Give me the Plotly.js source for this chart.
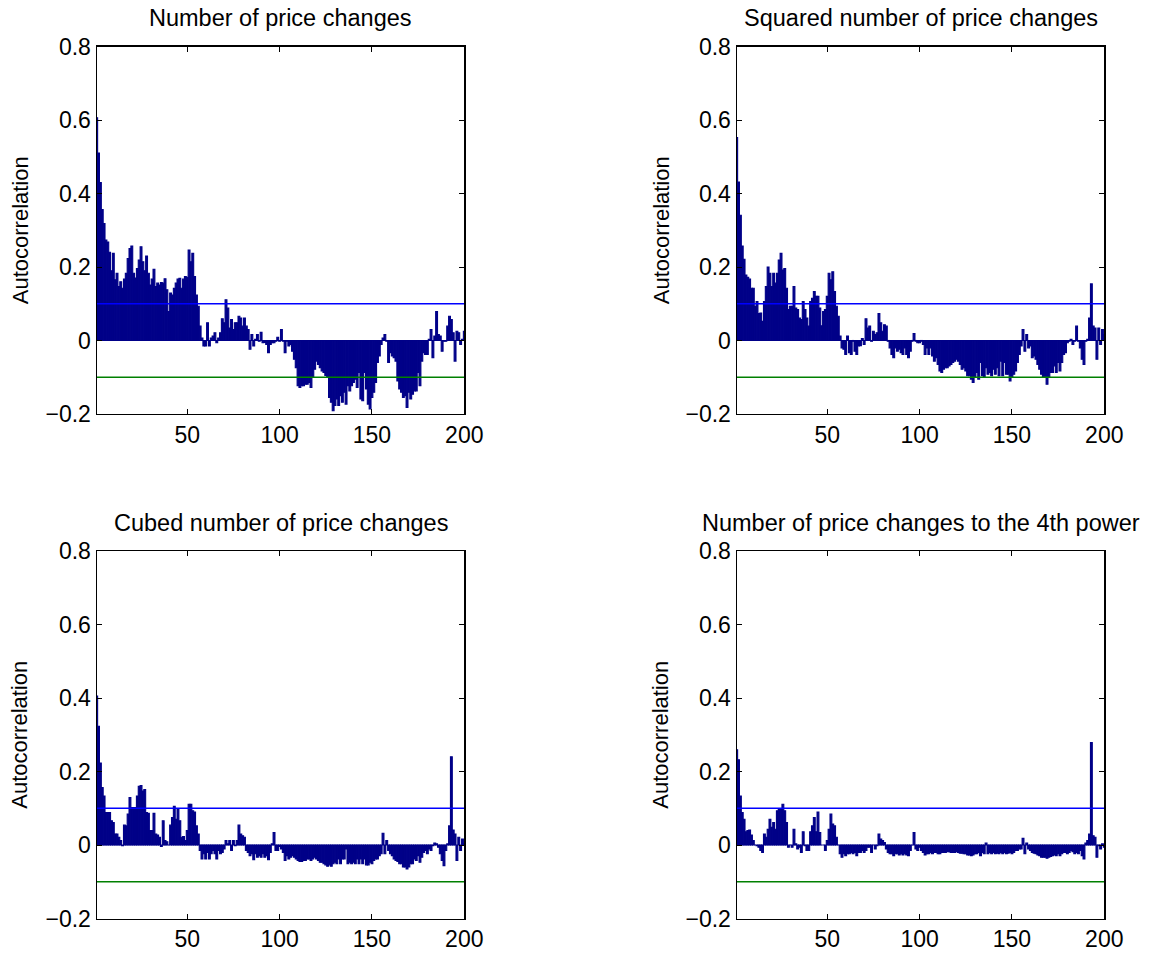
<!DOCTYPE html>
<html>
<head>
<meta charset="utf-8">
<script src="https://cdn.plot.ly/plotly-3.0.1.min.js"></script>
<style>
html,body{margin:0;padding:0;background:#fff;}
#chart{width:1163px;height:958px;}
</style>
</head>
<body>
<div id="chart"></div>
<script>
// ---- data (autocorrelation by lag) ----
const lags = Array.from({length: 200}, (_, i) => i + 1);

const titles = [
  "Number of price changes",
  "Squared number of price changes",
  "Cubed number of price changes",
  "Number of price changes to the 4th power"
];

const acfNumber = [
  0.606, 0.51, 0.43, 0.356, 0.318, 0.273, 0.268, 0.24, 0.19, 0.237,
  0.165, 0.183, 0.147, 0.16, 0.142, 0.167, 0.183, 0.223, 0.25, 0.257,
  0.183, 0.17, 0.196, 0.219, 0.255, 0.214, 0.19, 0.23, 0.183, 0.151,
  0.167, 0.194, 0.147, 0.156, 0.151, 0.158, 0.156, 0.168, 0.138, 0.079,
  0.129, 0.124, 0.142, 0.156, 0.167, 0.169, 0.142, 0.167, 0.174, 0.172,
  0.246, 0.214, 0.237, 0.174, 0.124, 0.093, 0.039, 0.007, -0.015, -0.015,
  0.048, -0.015, 0.007, 0.012, 0.021, -0.006, 0.007, 0.021, 0.059, 0.048,
  0.111, 0.088, 0.034, 0.057, 0.03, 0.048, 0.048, 0.066, 0.061, 0.039,
  0.061, 0.039, 0.03, -0.024, 0.016, -0.015, 0.003, 0.016, -0.002, 0.022,
  -0.006, -0.005, -0.011, -0.033, -0.011, -0.006, -0.006, -0.002, 0.009, -0.002,
  0.03, -0.002, -0.033, -0.002, -0.015, -0.011, -0.029, -0.051, -0.074, -0.123,
  -0.128, -0.123, -0.123, -0.119, -0.119, -0.114, -0.128, -0.1, -0.078, -0.056,
  -0.065, -0.074, -0.083, -0.087, -0.095, -0.1, -0.155, -0.168, -0.191, -0.177,
  -0.159, -0.177, -0.15, -0.168, -0.141, -0.173, -0.123, -0.137, -0.123, -0.114,
  -0.105, -0.128, -0.087, -0.159, -0.164, -0.087, -0.132, -0.173, -0.186, -0.155,
  -0.141, -0.114, -0.06, -0.042, -0.011, 0.007, 0.016, -0.002, -0.06, -0.033,
  -0.042, -0.047, -0.056, -0.11, -0.132, -0.141, -0.155, -0.15, -0.182, -0.141,
  -0.159, -0.146, -0.137, -0.137, -0.087, -0.123, -0.056, -0.033, -0.038, -0.038,
  0.003, 0.03, -0.047, 0.012, 0.079, 0.016, 0.012, -0.029, -0.002, -0.002,
  0.039, 0.066, 0.057, 0.021, -0.056, 0.025, 0.021, -0.011, 0.003, 0.025
];

const acfSquared = [
  0.552, 0.431, 0.341, 0.257, 0.221, 0.178, 0.172, 0.167, 0.142, 0.142,
  0.093, 0.106, 0.073, 0.075, 0.052, 0.106, 0.147, 0.2, 0.183, 0.147,
  0.183, 0.156, 0.183, 0.219, 0.237, 0.192, 0.196, 0.142, 0.084, 0.093,
  0.093, 0.147, 0.088, 0.084, 0.061, 0.057, 0.106, 0.084, 0.061, 0.039,
  0.106, 0.115, 0.133, 0.12, 0.12, 0.088, 0.04, 0.079, 0.084, 0.12,
  0.183, 0.165, 0.187, 0.133, 0.093, 0.066, 0.012, -0.02, -0.024, -0.038,
  0.012, -0.033, -0.038, -0.002, -0.029, -0.038, -0.015, -0.014, 0.005, -0.011,
  0.059, 0.034, 0.039, -0.002, 0.025, 0.016, 0.021, 0.073, 0.048, 0.025,
  0.043, 0.039, -0.002, -0.02, -0.038, -0.047, -0.02, -0.029, -0.024, -0.033,
  -0.038, -0.02, -0.038, -0.047, -0.029, -0.002, 0.019, -0.002, -0.006, -0.006,
  -0.002, -0.011, -0.038, -0.02, -0.038, -0.02, -0.042, -0.056, -0.047, -0.065,
  -0.083, -0.087, -0.078, -0.074, -0.074, -0.069, -0.065, -0.06, -0.056, -0.051,
  -0.056, -0.065, -0.078, -0.074, -0.083, -0.096, -0.096, -0.105, -0.114, -0.1,
  -0.087, -0.105, -0.06, -0.096, -0.1, -0.074, -0.092, -0.087, -0.096, -0.078,
  -0.092, -0.074, -0.096, -0.056, -0.096, -0.06, -0.092, -0.092, -0.11, -0.1,
  -0.092, -0.083, -0.06, -0.038, -0.015, 0.03, -0.029, 0.016, -0.02, -0.015,
  -0.047, -0.042, -0.051, -0.065, -0.078, -0.092, -0.1, -0.1, -0.119, -0.1,
  -0.087, -0.087, -0.069, -0.087, -0.06, -0.083, -0.06, -0.038, -0.033, -0.006,
  -0.002, 0.003, -0.011, -0.002, 0.039, -0.002, -0.02, -0.051, -0.065, -0.002,
  0.003, 0.061, 0.154, 0.039, 0.034, -0.051, 0.034, -0.011, 0.03, 0.016
];

const acfCubed = [
  0.405, 0.323, 0.223, 0.156, 0.133, 0.088, 0.088, 0.088, 0.066, 0.061,
  0.03, 0.03, 0.021, 0.012, -0.002, 0.054, 0.052, 0.084, 0.129, 0.102,
  0.102, 0.102, 0.133, 0.16, 0.162, 0.147, 0.151, 0.088, 0.086, 0.039,
  0.039, 0.086, 0.03, 0.027, 0.021, -0.004, 0.066, 0.012, 0.009, 0,
  0.054, 0.075, 0.105, 0.07, 0.099, 0.066, 0.021, 0.023, 0.012, 0.039,
  0.111, 0.111, 0.093, 0.09, 0.052, 0.03, -0.015, -0.038, -0.024, -0.038,
  -0.02, -0.038, -0.024, -0.015, -0.024, -0.038, -0.015, -0.024, -0.02, -0.011,
  0.012, 0.003, 0.012, -0.015, 0.012, -0.002, 0.012, 0.054, 0.03, 0.025,
  0.021, -0.015, -0.02, -0.029, -0.024, -0.04, -0.024, -0.033, -0.029, -0.033,
  -0.024, -0.033, -0.029, -0.04, -0.02, 0.003, 0.034, -0.015, -0.015, -0.004,
  -0.011, -0.02, -0.042, -0.029, -0.038, -0.033, -0.029, -0.033, -0.038, -0.042,
  -0.045, -0.045, -0.042, -0.042, -0.038, -0.038, -0.042, -0.038, -0.033, -0.038,
  -0.042, -0.047, -0.047, -0.051, -0.054, -0.058, -0.054, -0.058, -0.051, -0.047,
  -0.051, -0.038, -0.051, -0.038, -0.038, -0.011, -0.051, -0.047, -0.051, -0.047,
  -0.051, -0.038, -0.051, -0.038, -0.051, -0.038, -0.054, -0.054, -0.047, -0.051,
  -0.042, -0.038, -0.038, -0.029, -0.024, 0.032, -0.024, 0.012, -0.015, -0.024,
  -0.029, -0.038, -0.042, -0.045, -0.051, -0.051, -0.06, -0.06, -0.065, -0.06,
  -0.051, -0.051, -0.038, -0.042, -0.029, -0.047, -0.033, -0.02, -0.015, -0.024,
  -0.011, -0.015, -0.002, 0.005, 0.003, -0.006, -0.024, -0.042, -0.056, -0.015,
  0.003, 0.052, 0.24, 0.041, 0.03, -0.042, 0.021, -0.015, 0.016, 0.003
];

const acfFourth = [
  0.259, 0.232, 0.133, 0.088, 0.07, 0.036, 0.039, 0.041, 0.027, 0.012,
  0, -0.002, -0.006, -0.015, -0.02, 0.03, 0.021, 0.043, 0.07, 0.048,
  0.061, 0.043, 0.093, 0.097, 0.097, 0.111, 0.093, 0.061, -0.006, 0,
  -0.006, 0.043, 0.003, -0.011, -0.006, -0.02, 0.036, -0.002, -0.015, -0.015,
  0.036, 0.052, 0.075, 0.036, 0.09, 0.034, 0, 0, -0.015, 0.012,
  0.043, 0.084, 0.057, 0.052, 0.021, 0, -0.024, -0.033, -0.024, -0.029,
  -0.024, -0.024, -0.02, -0.024, -0.02, -0.029, -0.02, -0.02, -0.015, -0.02,
  -0.015, -0.006, -0.006, -0.02, 0, -0.011, -0.002, 0.03, 0.016, 0.012,
  0.007, -0.011, -0.02, -0.024, -0.024, -0.029, -0.024, -0.024, -0.027, -0.024,
  -0.027, -0.024, -0.027, -0.029, -0.015, 0, 0.034, -0.011, -0.015, -0.006,
  -0.015, -0.02, -0.027, -0.024, -0.024, -0.02, -0.024, -0.02, -0.02, -0.024,
  -0.024, -0.02, -0.02, -0.02, -0.018, -0.018, -0.02, -0.02, -0.02, -0.018,
  -0.02, -0.022, -0.022, -0.024, -0.024, -0.027, -0.027, -0.029, -0.027, -0.024,
  -0.024, -0.02, -0.029, -0.02, -0.024, 0.005, -0.024, -0.02, -0.024, -0.02,
  -0.024, -0.022, -0.024, -0.02, -0.024, -0.02, -0.024, -0.022, -0.02, -0.024,
  -0.02, -0.015, -0.015, -0.011, -0.011, 0.018, -0.024, 0.005, -0.011, -0.015,
  -0.02, -0.022, -0.024, -0.027, -0.029, -0.033, -0.033, -0.033, -0.036, -0.033,
  -0.031, -0.029, -0.027, -0.029, -0.024, -0.029, -0.024, -0.02, -0.02, -0.024,
  -0.02, -0.015, -0.018, -0.024, -0.02, -0.024, -0.015, -0.029, -0.038, 0.005,
  0.012, 0.03, 0.279, 0.025, 0.021, -0.033, -0.002, -0.011, 0.003, -0.006
];

const upperBand = 0.1;
const lowerBand = -0.1;
const yTickVals = [-0.2, 0, 0.2, 0.4, 0.6, 0.8];
const yTickText = ["\u22120.2", "0", "0.2", "0.4", "0.6", "0.8"];
const xTickVals = [50, 100, 150, 200];
const yLabel = "Autocorrelation";

// ---- layout ----
const W = 1163, H = 958;
const series = [acfNumber, acfSquared, acfCubed, acfFourth];
const xDomains = [[96.7 / W, 464.3 / W], [736.7 / W, 1104.3 / W]];
const yDomains = [[(H - 414) / H, (H - 46.5) / H], [(H - 918.5) / H, (H - 551) / H]];
const FONT = "'Liberation Sans', Arial, Helvetica, sans-serif";
const barColor = "#000088";

const traces = [];
const layout = {
  width: W, height: H,
  margin: {l: 0, r: 0, t: 0, b: 0},
  paper_bgcolor: "#fff", plot_bgcolor: "#fff",
  showlegend: false,
  bargap: 0,
  font: {family: FONT, size: 23, color: "#000"},
  annotations: []
};

for (let k = 0; k < 4; k++) {
  const col = k % 2, row = Math.floor(k / 2);
  const ax = k === 0 ? "" : String(k + 1);
  const xa = "x" + ax, ya = "y" + ax;
  traces.push({
    type: "bar", x: lags, y: series[k], xaxis: xa, yaxis: ya,
    width: 1,
    marker: {color: barColor, line: {color: barColor, width: 1.1}},
    hoverinfo: "x+y"
  });
  traces.push({
    type: "scatter", mode: "lines", x: [lags[0], lags[lags.length - 1]],
    y: [upperBand, upperBand], xaxis: xa, yaxis: ya,
    line: {color: "#0000FF", width: 1.4}, hoverinfo: "skip"
  });
  traces.push({
    type: "scatter", mode: "lines", x: [lags[0], lags[lags.length - 1]],
    y: [lowerBand, lowerBand], xaxis: xa, yaxis: ya,
    line: {color: "#008000", width: 1.4}, hoverinfo: "skip"
  });
  const common = {
    showline: true, linecolor: "#000", linewidth: 1.2, mirror: "ticks",
    ticks: "inside", ticklen: 5, tickwidth: 1, tickcolor: "#000",
    showgrid: false, zeroline: false, fixedrange: true,
    tickfont: {family: FONT, size: 23, color: "#000"}
  };
  layout["xaxis" + ax] = Object.assign({}, common, {
    domain: xDomains[col], anchor: ya, range: [1, 200],
    tickmode: "array", tickvals: xTickVals
  });
  layout["yaxis" + ax] = Object.assign({}, common, {
    domain: yDomains[row], anchor: xa, range: [-0.2, 0.8],
    tickmode: "array", tickvals: yTickVals, ticktext: yTickText
  });
  const xc = (xDomains[col][0] + xDomains[col][1]) / 2;
  const yTop = row === 0 ? 18 : 523;
  layout.annotations.push({
    text: titles[k], xref: "paper", yref: "paper",
    x: xc, y: (H - yTop) / H, xanchor: "center", yanchor: "middle",
    showarrow: false, font: {family: FONT, size: 23.5, color: "#000"}
  });
  const yc = (yDomains[row][0] + yDomains[row][1]) / 2;
  layout.annotations.push({
    text: yLabel, xref: "paper", yref: "paper",
    x: (col === 0 ? 20 : 661) / W, y: yc, xanchor: "center", yanchor: "middle",
    textangle: -90, showarrow: false, font: {family: FONT, size: 22, color: "#000"}
  });
}

Plotly.newPlot("chart", traces, layout, {displayModeBar: false, staticPlot: true});
</script>
</body>
</html>
